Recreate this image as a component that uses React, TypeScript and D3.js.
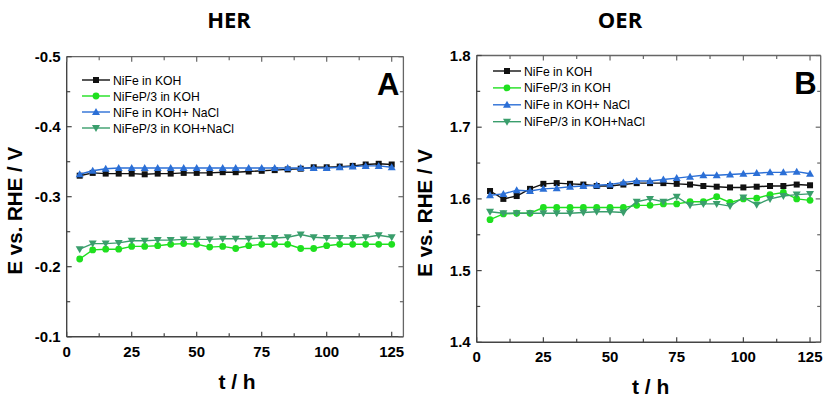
import * as d3 from 'd3';

// time points (h)
const HOURS = [5, 10, 15, 20, 25, 30, 35, 40, 45, 50, 55, 60, 65, 70, 75, 80, 85, 90, 95, 100, 105, 110, 115, 120, 125];

const SERIES_NAMES = ['NiFe in KOH', 'NiFeP/3 in KOH', 'NiFe in KOH+ NaCl', 'NiFeP/3 in KOH+NaCl'];
const SERIES_COLORS = ['#111111', '#1fe01f', '#2b6fd6', '#3a9e6c'];
const SERIES_MARKERS = ['square', 'circle', 'up', 'down'];

// HER, E vs. RHE / V
const HER_NIFE_KOH = [-0.330, -0.334, -0.333, -0.333, -0.333, -0.332, -0.333, -0.333, -0.334, -0.334, -0.334, -0.335, -0.335, -0.336, -0.337, -0.338, -0.339, -0.340, -0.342, -0.342, -0.343, -0.344, -0.346, -0.347, -0.346];
const HER_NIFEP_KOH = [-0.211, -0.224, -0.225, -0.225, -0.229, -0.229, -0.230, -0.232, -0.233, -0.232, -0.228, -0.229, -0.226, -0.230, -0.232, -0.232, -0.232, -0.226, -0.226, -0.230, -0.232, -0.232, -0.232, -0.232, -0.232];
const HER_NIFE_NACL = [-0.332, -0.337, -0.340, -0.341, -0.341, -0.341, -0.341, -0.341, -0.341, -0.341, -0.341, -0.341, -0.341, -0.341, -0.341, -0.341, -0.341, -0.341, -0.341, -0.341, -0.342, -0.343, -0.344, -0.344, -0.342];
const HER_NIFEP_NACL = [-0.225, -0.233, -0.233, -0.234, -0.237, -0.237, -0.238, -0.238, -0.239, -0.239, -0.239, -0.240, -0.240, -0.240, -0.241, -0.241, -0.242, -0.246, -0.242, -0.241, -0.241, -0.241, -0.242, -0.245, -0.242];

// OER, E vs. RHE / V
const OER_NIFE_KOH = [1.611, 1.600, 1.604, 1.614, 1.621, 1.622, 1.621, 1.620, 1.618, 1.618, 1.620, 1.622, 1.622, 1.622, 1.621, 1.620, 1.618, 1.617, 1.616, 1.616, 1.617, 1.618, 1.618, 1.620, 1.619];
const OER_NIFEP_KOH = [1.571, 1.579, 1.580, 1.580, 1.588, 1.588, 1.588, 1.588, 1.588, 1.588, 1.588, 1.591, 1.591, 1.593, 1.593, 1.596, 1.596, 1.603, 1.595, 1.600, 1.601, 1.606, 1.609, 1.600, 1.598];
const OER_NIFE_NACL = [1.605, 1.607, 1.612, 1.611, 1.614, 1.615, 1.617, 1.618, 1.619, 1.620, 1.623, 1.625, 1.625, 1.627, 1.629, 1.631, 1.633, 1.633, 1.634, 1.635, 1.636, 1.637, 1.637, 1.638, 1.635];
const OER_NIFEP_NACL = [1.582, 1.580, 1.580, 1.580, 1.580, 1.580, 1.580, 1.581, 1.582, 1.582, 1.581, 1.596, 1.600, 1.596, 1.603, 1.591, 1.593, 1.593, 1.590, 1.602, 1.592, 1.600, 1.604, 1.606, 1.607];

const X_TICKS = [0, 25, 50, 75, 100, 125];
const HER_Y_TICKS = [-0.1, -0.2, -0.3, -0.4, -0.5];
const OER_Y_TICKS = [1.4, 1.5, 1.6, 1.7, 1.8];

const FONT = '"Liberation Sans", Arial, sans-serif';

type PanelProps = {
  title: string;
  letter: string;
  series: number[][];
  yTicks: number[];
  xDomain: [number, number];
  xRange: [number, number];
  yRange: [number, number];
  titleX: number;
  legend: { x: number; y: number; dy: number };
  yLabelX: number;
  xLabelY: number;
};

function Marker({ type, x, y, color }: { type: string; x: number; y: number; color: string }) {
  if (type === 'square') return <rect x={x - 3} y={y - 3} width={6} height={6} fill={color} />;
  if (type === 'circle') return <circle cx={x} cy={y} r={3.4} fill={color} />;
  const s = 4;
  const pts = type === 'up'
    ? [[x, y - s], [x - s, y + s * 0.75], [x + s, y + s * 0.75]]
    : [[x, y + s], [x - s, y - s * 0.75], [x + s, y - s * 0.75]];
  return <polygon points={pts.map(p => p.join(',')).join(' ')} fill={color} />;
}

function Panel(p: PanelProps) {
  const x = d3.scaleLinear().domain(p.xDomain).range(p.xRange);
  const y = d3.scaleLinear().domain([p.yTicks[0], p.yTicks[p.yTicks.length - 1]]).range(p.yRange);
  const [x0, x1] = p.xRange;
  const [yb, yt] = p.yRange;
  const line = d3.line<number>().x((_, i) => x(HOURS[i])).y(v => y(v));

  const xMinor = X_TICKS.map(t => t + 12.5).filter(t => t < p.xDomain[1]);
  const yStep = p.yTicks[1] - p.yTicks[0];
  const yMinor = p.yTicks.slice(0, -1).map(t => t + yStep / 2);

  return (
    <g fontFamily={FONT}>
      <text x={p.titleX} y={28} textAnchor="middle" fontFamily='"Open Sans", sans-serif' fontWeight={700} fontSize={22}>{p.title}</text>

      {/* frame */}
      <line x1={x0} x2={x1} y1={yt} y2={yt} stroke="#666" strokeWidth={1.3} />
      <line x1={x1} x2={x1} y1={yt} y2={yb} stroke="#666" strokeWidth={1.3} />
      <line x1={x0} x2={x0} y1={yt} y2={yb} stroke="#444" strokeWidth={1.4} />
      <line x1={x0} x2={x1} y1={yb} y2={yb} stroke="#444" strokeWidth={1.4} />

      {/* ticks */}
      {X_TICKS.concat(xMinor).map(t => {
        const len = X_TICKS.includes(t) ? 5 : 3.5;
        return (
          <g key={'xt' + t}>
            <line x1={x(t)} x2={x(t)} y1={yb} y2={yb - len} stroke="#444" strokeWidth={1.2} />
            <line x1={x(t)} x2={x(t)} y1={yt} y2={yt + len} stroke="#666" strokeWidth={1.2} />
          </g>
        );
      })}
      {p.yTicks.concat(yMinor).map(t => {
        const len = p.yTicks.includes(t) ? 5 : 3.5;
        return (
          <g key={'yt' + t}>
            <line x1={x0} x2={x0 + len} y1={y(t)} y2={y(t)} stroke="#444" strokeWidth={1.2} />
            <line x1={x1} x2={x1 - len} y1={y(t)} y2={y(t)} stroke="#666" strokeWidth={1.2} />
          </g>
        );
      })}

      {X_TICKS.map(t => (
        <text key={'xl' + t} x={x(t)} y={yb + 20} textAnchor="middle" fontWeight={700} fontSize={15}>{t}</text>
      ))}
      {p.yTicks.map(t => (
        <text key={'yl' + t} x={x0 - 6} y={y(t) + 5} textAnchor="end" fontWeight={700} fontSize={15}>{t.toFixed(1)}</text>
      ))}

      <text x={(x0 + x1) / 2 + 2} y={p.xLabelY} textAnchor="middle" fontWeight={700} fontSize={21}>t / h</text>
      <text transform={`translate(${p.yLabelX},${(yt + yb) / 2 + 14}) rotate(-90)`} textAnchor="middle" fontWeight={700} fontSize={20.5}>E vs. RHE / V</text>

      {p.series.map((vals, si) => (
        <g key={'s' + si}>
          <path d={line(vals) ?? ''} fill="none" stroke={SERIES_COLORS[si]} strokeWidth={1.4} />
          {vals.map((v, i) => (
            <Marker key={i} type={SERIES_MARKERS[si]} x={x(HOURS[i])} y={y(v)} color={SERIES_COLORS[si]} />
          ))}
        </g>
      ))}

      {/* legend */}
      {SERIES_NAMES.map((name, si) => {
        const ly = p.legend.y + si * p.legend.dy;
        return (
          <g key={'lg' + si}>
            <line x1={p.legend.x} x2={p.legend.x + 28} y1={ly} y2={ly} stroke={SERIES_COLORS[si]} strokeWidth={1.4} />
            <Marker type={SERIES_MARKERS[si]} x={p.legend.x + 14} y={ly} color={SERIES_COLORS[si]} />
            <text x={p.legend.x + 31} y={ly + 4.5} fontSize={12.2}>{name}</text>
          </g>
        );
      })}

      <text x={x1 - 4} y={yt + 38} textAnchor="end" fontWeight={700} fontSize={31}>{p.letter}</text>
    </g>
  );
}

export default function App() {
  return (
    <svg width={823} height={398} style={{ position: 'absolute', left: 0, top: 0, background: '#fff' }}>
      <Panel
        title="HER"
        letter="A"
        series={[HER_NIFE_KOH, HER_NIFEP_KOH, HER_NIFE_NACL, HER_NIFEP_NACL]}
        yTicks={HER_Y_TICKS}
        xDomain={[0, 129.5]}
        xRange={[66.7, 403.4]}
        yRange={[336.7, 56.7]}
        titleX={229}
        legend={{ x: 82, y: 80, dy: 16 }}
        yLabelX={22}
        xLabelY={389}
      />
      <Panel
        title="OER"
        letter="B"
        series={[OER_NIFE_KOH, OER_NIFEP_KOH, OER_NIFE_NACL, OER_NIFEP_NACL]}
        yTicks={OER_Y_TICKS}
        xDomain={[0, 129]}
        xRange={[476.7, 820.7]}
        yRange={[342.3, 55.5]}
        titleX={620}
        legend={{ x: 493, y: 71, dy: 16.9 }}
        yLabelX={432}
        xLabelY={394}
      />
    </svg>
  );
}
